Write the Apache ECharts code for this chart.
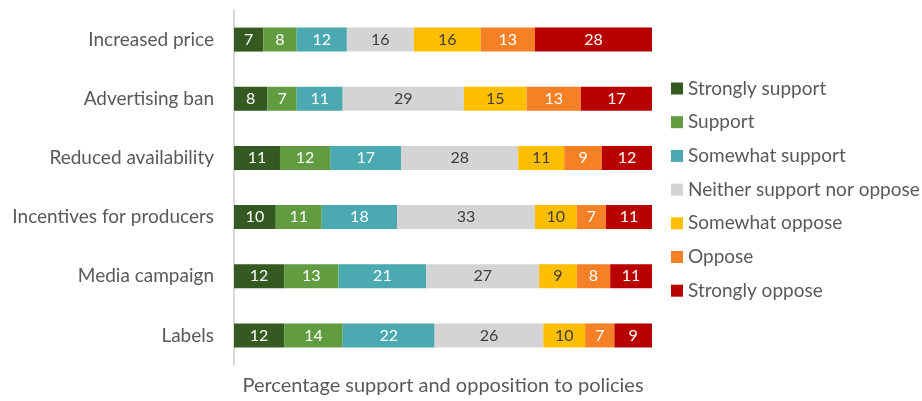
<!DOCTYPE html>
<html><head><meta charset="utf-8">
<script src="https://cdn.jsdelivr.net/npm/echarts@6/dist/echarts.min.js"></script>
<style>html,body{margin:0;padding:0;background:#fff}#c{width:922px;height:401px}</style>
</head><body><div id="c"></div>
<script>
const categories = ["Increased price","Advertising ban","Reduced availability","Incentives for producers","Media campaign","Labels"];
const seriesNames = ["Strongly support","Support","Somewhat support","Neither support nor oppose","Somewhat oppose","Oppose","Strongly oppose"];
const stronglySupport = [7,8,11,10,12,12];
const support = [8,7,12,11,13,14];
const somewhatSupport = [12,11,17,18,21,22];
const neither = [16,29,28,33,27,26];
const somewhatOppose = [16,15,11,10,9,10];
const oppose = [13,13,9,7,8,7];
const stronglyOppose = [28,17,12,11,11,9];
const values = [stronglySupport,support,somewhatSupport,neither,somewhatOppose,oppose,stronglyOppose];
const colors = ["#345a22","#619c40","#4aa9b1","#d4d4d4","#ffbf00","#f58026","#b80000"];
const labelColors = ["#fff","#fff","#fff","#404040","#404040","#fff","#fff"];
const FONT = "Lato, 'Open Sans', sans-serif";
const chart = echarts.init(document.getElementById('c'));
chart.setOption({
  animation:false,
  textStyle:{fontFamily:FONT},
  grid:{left:234,right:270,top:10,bottom:31,containLabel:false},
  legend:{orient:'vertical',left:666,top:74,itemWidth:12,itemHeight:12,itemGap:14.7,icon:'rect',
    textStyle:{fontSize:19,color:'#595959',fontFamily:FONT},data:seriesNames},
  xAxis:{type:'value',min:0,max:100,axisLabel:{show:false},splitLine:{show:false},axisLine:{show:false},axisTick:{show:false},
    name:'Percentage support and opposition to policies',nameLocation:'middle',nameGap:11,
    nameTextStyle:{fontSize:20,color:'#595959',fontFamily:FONT}},
  yAxis:{type:'category',data:categories,inverse:true,
    axisLine:{show:true,lineStyle:{color:'#d9d9d9',width:2}},axisTick:{show:false},
    axisLabel:{fontSize:19,color:'#595959',margin:20,fontFamily:FONT}},
  series: seriesNames.map((n,i)=>({
    name:n,type:'bar',stack:'all',barWidth:24,data:values[i],
    itemStyle:{color:colors[i]},
    label:{show:true,position:'inside',fontSize:16,color:labelColors[i],fontFamily:FONT}
  }))
});
</script></body></html>
